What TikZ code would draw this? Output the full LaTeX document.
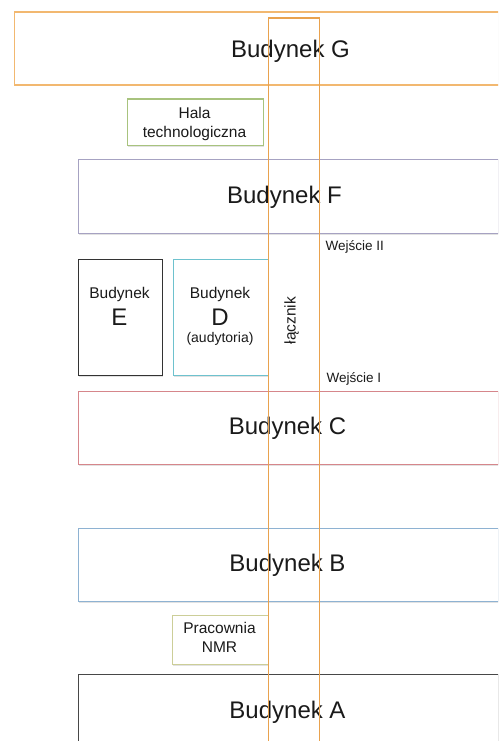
\documentclass[tikz,border=0pt]{standalone}
\usepackage{fontspec}
\setmainfont{Liberation Sans}
\definecolor{cG}{HTML}{F2B870}
\definecolor{cLink}{HTML}{E9A24E}
\definecolor{cF}{HTML}{A6A2C2}
\definecolor{cC}{HTML}{D6868B}
\definecolor{cB}{HTML}{8EB2D2}
\definecolor{cD}{HTML}{6EC2CE}
\definecolor{cE}{HTML}{333333}
\definecolor{cA}{HTML}{484848}
\definecolor{cHala}{HTML}{A8C37E}
\definecolor{cNMR}{HTML}{CCCE98}
\definecolor{cShadow}{HTML}{E2E2E2}
\definecolor{txt}{HTML}{1A1A1A}
\tikzset{
  bldg/.style={draw=#1, line width=1.2pt, fill=white, rectangle, inner sep=0pt, anchor=north west},
  shadowbox/.style={fill=cShadow, draw=none},
  bigtxt/.style={font=\fontsize{24}{28}\selectfont, text=txt, inner sep=0pt, anchor=base},
  midtxt/.style={font=\fontsize{15.5}{18}\selectfont, text=txt, inner sep=0pt, anchor=base},
  smalltxt/.style={font=\fontsize{14}{16}\selectfont, text=txt, inner sep=0pt, anchor=base},
  entrytxt/.style={font=\fontsize{13.5}{16}\selectfont, text=txt, inner sep=0pt, anchor=base west},
}
\newcommand{\bshadow}[4]{\fill[shadowbox] (#1+1.5,#2+1.5) rectangle (#3+1.5,#4+2);}
\begin{document}
\begin{tikzpicture}[x=1pt,y=-1pt]
\useasboundingbox (0,0) rectangle (498,741);
\clip (0,0) rectangle (498,741);
\fill[white] (0,0) rectangle (498,741);
\begin{scope}[shift={(0.5,0.5)}]
% shadows
\bshadow{13}{11}{513}{84}
\bshadow{126}{98}{262}{144}
\bshadow{77}{158}{497}{232}
\bshadow{77}{258}{161}{374}
\bshadow{172}{258}{267}{374}
\bshadow{77}{390}{497}{463}
\bshadow{77}{527}{497}{600}
\bshadow{171}{614}{267}{663}
% buildings
\node[bldg=cG, minimum width=500pt, minimum height=73pt] (G) at (13,11) {};
\node[bldg=cHala, minimum width=136pt, minimum height=46pt] (Hala) at (126,98) {};
\node[bldg=cF, minimum width=420pt, minimum height=74pt] (F) at (77,158) {};
\node[bldg=cE, minimum width=84pt, minimum height=116pt] (E) at (77,258) {};
\node[bldg=cD, minimum width=95pt, minimum height=116pt] (D) at (172,258) {};
\node[bldg=cC, minimum width=420pt, minimum height=73pt] (C) at (77,390) {};
\node[bldg=cB, minimum width=420pt, minimum height=73pt] (B) at (77,527) {};
\node[bldg=cNMR, minimum width=96pt, minimum height=49pt] (NMR) at (171,614) {};
\node[bldg=cA, minimum width=420pt, minimum height=100pt] (A) at (77,673) {};
% texts
\node[bigtxt] (Gt) at (290,56.7) {Budynek G};
\node[midtxt] (Hala1) at (194,117.7) {Hala};
\node[midtxt] (Hala2) at (194,136.7) {technologiczna};
\node[bigtxt] (Ft) at (284,203) {Budynek F};
\node[midtxt] (E1) at (119,298) {Budynek};
\node[bigtxt] (E2) at (119,325) {E};
\node[midtxt] (D1) at (219.5,298) {Budynek};
\node[bigtxt] (D2) at (219.5,325) {D};
\node[smalltxt] (D3) at (219.5,342) {(audytoria)};
\node[bigtxt] (Ct) at (287,434) {Budynek C};
\node[bigtxt] (Bt) at (287,571) {Budynek B};
\node[midtxt] (N1) at (219,633) {Pracownia};
\node[midtxt] (N2) at (219,652) {NMR};
\node[bigtxt] (At) at (287,718) {Budynek A};
% connector (łącznik)
\node[draw=cLink, line width=1.2pt, rectangle, inner sep=0pt, anchor=north west,
  minimum width=51pt, minimum height=760pt] (L) at (267,17) {};
\node[midtxt, rotate=90] (Lt) at (295,320) {łącznik};
\node[entrytxt] (W2) at (325,250) {Wejście II};
\node[entrytxt] (W1) at (326,382) {Wejście I};
\end{scope}
\end{tikzpicture}
\end{document}
